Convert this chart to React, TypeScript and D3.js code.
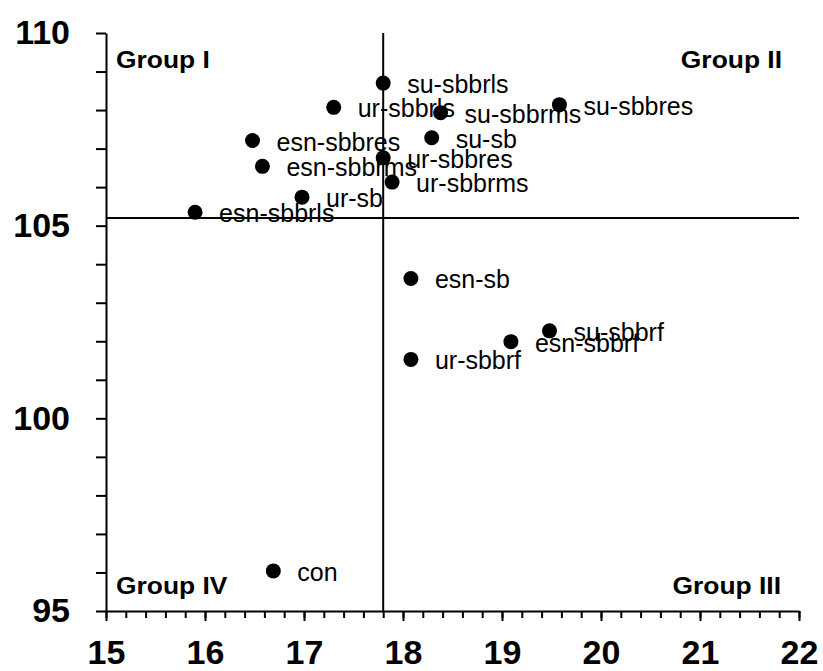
import React, { useRef, useEffect } from 'react';
import * as d3 from 'd3';

// treatment labels and their coordinates (x, y)
const names = [
  'su-sbbrls',
  'ur-sbbrls',
  'su-sbbrms',
  'su-sbbres',
  'esn-sbbres',
  'su-sb',
  'ur-sbbres',
  'esn-sbbrms',
  'ur-sbbrms',
  'ur-sb',
  'esn-sbbrls',
  'esn-sb',
  'su-sbbrf',
  'esn-sbbrf',
  'ur-sbbrf',
  'con',
];
const xValues = [17.8, 17.3, 18.38, 19.58, 16.48, 18.29, 17.8, 16.58, 17.89, 16.98, 15.9, 18.08, 19.48, 19.09, 18.08, 16.69];
const yValues = [108.7, 108.07, 107.93, 108.14, 107.21, 107.28, 106.76, 106.54, 106.13, 105.74, 105.35, 103.63, 102.27, 101.99, 101.53, 96.04];

// reference lines (means)
const xCross = 17.8;
const yCross = 105.2;

const xDomain = [15, 22];
const yDomain = [95, 110];
const xMajorTicks = [15, 16, 17, 18, 19, 20, 21, 22];
const yMajorTicks = [95, 100, 105, 110];

const groupLabels = ['Group I', 'Group II', 'Group III', 'Group IV'];

const width = 823;
const height = 671;
const margin = { top: 33, right: 24, bottom: 60, left: 106 };

const App = () => {
  const ref = useRef<SVGSVGElement | null>(null);

  useEffect(() => {
    if (!ref.current) return;
    const svg = d3.select(ref.current);
    svg.selectAll('*').remove();

    const left = margin.left;
    const right = width - margin.right;
    const top = margin.top;
    const bottom = height - margin.bottom;

    const x = d3.scaleLinear().domain(xDomain).range([left, right]);
    const y = d3.scaleLinear().domain(yDomain).range([bottom, top]);

    const font = 'Liberation Sans, Arial, sans-serif';

    // x minor ticks
    const xMinor = d3
      .axisBottom(x)
      .tickValues(d3.range(0, 36).map((i) => 15 + i * 0.2))
      .tickSize(7)
      .tickSizeOuter(0)
      .tickFormat(() => '');
    svg
      .append('g')
      .attr('transform', `translate(0,${bottom})`)
      .call(xMinor)
      .call((g) => g.selectAll('line').attr('stroke', '#000').attr('stroke-width', 2))
      .call((g) => g.select('.domain').attr('stroke', '#000').attr('stroke-width', 2));

    // x major ticks
    const xAxis = d3
      .axisBottom(x)
      .tickValues(xMajorTicks)
      .tickSize(10)
      .tickSizeOuter(0)
      .tickPadding(19)
      .tickFormat((d) => String(d));
    svg
      .append('g')
      .attr('transform', `translate(0,${bottom})`)
      .call(xAxis)
      .call((g) => g.select('.domain').remove())
      .call((g) => g.selectAll('line').attr('stroke', '#000').attr('stroke-width', 2))
      .call((g) =>
        g
          .selectAll('text')
          .attr('fill', '#000')
          .attr('font-family', font)
          .attr('font-weight', 'bold')
          .attr('font-size', 34),
      );

    // y axis, ticks every 1
    const yAxis = d3
      .axisLeft(y)
      .tickValues(d3.range(95, 111, 1))
      .tickSize(10)
      .tickSizeOuter(0)
      .tickPadding(26)
      .tickFormat((d) => (yMajorTicks.includes(d as number) ? String(d) : ''));
    svg
      .append('g')
      .attr('transform', `translate(${left},0)`)
      .call(yAxis)
      .call((g) => g.selectAll('line').attr('stroke', '#000').attr('stroke-width', 2))
      .call((g) => g.select('.domain').attr('stroke', '#000').attr('stroke-width', 2))
      .call((g) =>
        g
          .selectAll('text')
          .attr('fill', '#000')
          .attr('font-family', font)
          .attr('font-weight', 'bold')
          .attr('font-size', 34),
      );

    // cross lines
    svg
      .append('line')
      .attr('x1', x(xCross))
      .attr('x2', x(xCross))
      .attr('y1', top)
      .attr('y2', bottom)
      .attr('stroke', '#000')
      .attr('stroke-width', 2);
    svg
      .append('line')
      .attr('x1', left)
      .attr('x2', right)
      .attr('y1', y(yCross))
      .attr('y2', y(yCross))
      .attr('stroke', '#000')
      .attr('stroke-width', 2);

    // points
    const data = names.map((n, i) => ({ name: n, x: xValues[i], y: yValues[i] }));
    svg
      .selectAll('.dot')
      .data(data)
      .enter()
      .append('circle')
      .attr('class', 'dot')
      .attr('cx', (d) => x(d.x))
      .attr('cy', (d) => y(d.y))
      .attr('r', 7.5)
      .attr('fill', '#000');

    svg
      .selectAll('.lbl')
      .data(data)
      .enter()
      .append('text')
      .attr('class', 'lbl')
      .attr('x', (d) => x(d.x) + 24)
      .attr('y', (d) => y(d.y) + 10)
      .attr('font-family', font)
      .attr('font-size', 25)
      .attr('fill', '#000')
      .text((d) => d.name);

    // quadrant labels (slightly wide, like the original)
    const gl = [
      { t: groupLabels[0], x: left + 10, y: top + 35, a: 'start' },
      { t: groupLabels[1], x: right - 17, y: top + 35, a: 'end' },
      { t: groupLabels[2], x: right - 18, y: bottom - 17, a: 'end' },
      { t: groupLabels[3], x: left + 10, y: bottom - 17, a: 'start' },
    ];
    svg
      .selectAll('.grp')
      .data(gl)
      .enter()
      .append('text')
      .attr('class', 'grp')
      .attr('transform', (d) => `translate(${d.x},${d.y}) scale(1.1,1)`)
      .attr('text-anchor', (d) => d.a)
      .attr('font-family', font)
      .attr('font-weight', 'bold')
      .attr('font-size', 24)
      .attr('fill', '#000')
      .text((d) => d.t);
  }, []);

  return (
    <svg
      ref={ref}
      width={width}
      height={height}
      style={{ position: 'absolute', left: 0, top: 0, background: '#fff' }}
    />
  );
};

export default App;
